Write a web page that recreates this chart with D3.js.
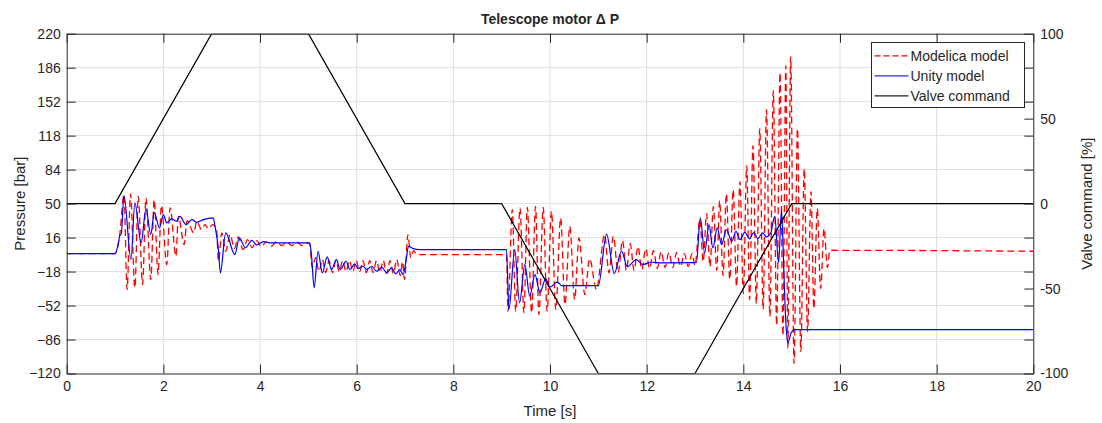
<!DOCTYPE html>
<html lang="en">
<head>
    <meta charset="UTF-8">
    <title>Telescope motor pressure</title>
    <script src="https://d3js.org/d3.v7.min.js"></script>
    <style>
        body { margin: 0; background: #fff; }
        text { font-family: "Liberation Sans", Arial, sans-serif; fill: #262626; }
    </style>
</head>
<body>
<script>
    // ---- data ----
    const valveT = [0, 1, 3, 5, 7, 9, 11, 13, 15, 20];
    const valveV = [0, 0, 100, 100, 0, 0, -100, -100, 0, 0];

    // Unity model (blue), extrema and corners
    const uniT = [0, 1.0, 1.06, 1.10, 1.13, 1.185, 1.33, 1.41, 1.54, 1.64, 1.74, 1.81, 1.92, 2.0, 2.07, 2.17, 2.27, 2.34, 2.47, 2.59, 2.69, 2.83, 3.03, 3.07, 3.14, 3.18, 3.29, 3.48, 3.57, 3.70, 3.83, 3.93, 4.07, 4.2,
        5.03, 5.07, 5.12, 5.20, 5.29, 5.39, 5.48, 5.58, 5.66, 5.78, 5.86, 5.96, 6.03, 6.13, 6.21, 6.31, 6.41, 6.52, 6.62, 6.72, 6.81, 6.89, 6.96, 7.03, 7.07, 7.17, 7.3,
        9.1, 9.15, 9.27, 9.37, 9.48, 9.58, 9.69, 9.79, 9.91, 10.0, 10.15, 10.25, 11.0, 11.17, 11.33, 11.48, 11.6, 11.79, 11.92, 12.1, 12.3,
        13.03, 13.11, 13.2, 13.29, 13.37, 13.46, 13.55, 13.65, 13.76, 13.85, 13.93, 14.03, 14.13, 14.21, 14.3, 14.4, 14.48, 14.57, 14.65, 14.73, 14.79, 14.84, 14.88, 14.92, 14.99, 15.05, 20];
    const uniP = [0, 0, 8, 18, 20, 58, -6, 50.7, 10.7, 44.7, 19, 41.3, 25.7, 39, 30.7, 34.7, 32.3, 37.3, 29, 34, 31.3, 34, 35.7, 27, 4, -19.3, 20.7, -1, 15.7, 5.7, 13.3, 8.7, 12, 10.7,
        10.7, -5, -34.3, 2.3, -19.3, -3.3, -16, -6, -16, -7.7, -16, -10.3, -15, -12.7, -16, -12.7, -17.7, -13.7, -19.3, -14.3, -20.3, -16, -21, -4.3, 7.3, 5, 4,
        4, -56, 4, -49.3, -11, -42.7, -21, -39.3, -25.3, -33.5, -28.5, -32, -32, 19.5, -20, 2.3, -13, -6, -11, -8.7, -9.3,
        -9, 35.7, 0.7, 29, 5.7, 25.7, 9, 24, 12.3, 22.3, 14, 21.3, 14.7, 21, 15, 20.7, 16.7, 21.3, 37.3, -9.3, 44, -20, -69.3, -89.3, -79.3, -76, -76];

    // Modelica model (red, dashed), extrema and corners
    const modT = [0, 1.0, 1.1, 1.185, 1.25, 1.32, 1.41, 1.48, 1.57, 1.64, 1.74, 1.81, 1.89, 1.96, 2.07, 2.14, 2.26, 2.31, 2.43, 2.49, 2.63, 2.69, 2.79, 2.86, 2.93, 3.02, 3.10,
        3.14, 3.21, 3.29, 3.38, 3.47, 3.55, 3.65, 3.74, 3.84, 3.93, 4.03, 4.13, 4.24, 4.34, 4.45, 4.55, 4.66, 4.76, 4.87, 4.97,
        5.03, 5.08, 5.15, 5.22, 5.29, 5.36, 5.43, 5.50, 5.57, 5.64, 5.71, 5.78, 5.85, 5.92, 5.99, 6.06, 6.13, 6.20, 6.27, 6.34, 6.41, 6.48, 6.55, 6.62, 6.69, 6.76, 6.83, 6.90, 6.95, 6.99, 7.06, 7.12, 7.18, 7.24, 7.35,
        9.1, 9.13, 9.22, 9.29, 9.38, 9.46, 9.53, 9.62, 9.70, 9.77, 9.86, 9.94, 10.03, 10.12, 10.22, 10.31, 10.41, 10.51, 10.6, 10.72, 10.82, 10.96,
        11.13, 11.22, 11.31, 11.41, 11.50, 11.58, 11.66, 11.74, 11.82, 11.90, 11.98, 12.06, 12.14, 12.22, 12.30, 12.38, 12.46, 12.54, 12.62, 12.70, 12.78, 12.86, 12.94, 13.0,
        13.10, 13.17, 13.24, 13.31, 13.38, 13.45, 13.51, 13.58, 13.65, 13.72, 13.79, 13.86, 13.93, 14.0, 14.07, 14.13, 14.20, 14.27, 14.34, 14.41, 14.48, 14.55, 14.62, 14.69, 14.76, 14.82, 14.88, 14.92, 14.98, 15.05,
        15.12, 15.19, 15.26, 15.33, 15.40, 15.46, 15.53, 15.60, 15.67, 15.74, 15.79, 20];
    const modP = [0, 0, 20, 59, -36, 59.7, -34.3, 57.3, -31, 55.7, -26, 54, -21, 48.3, -11, 45.7, -2.7, 37.3, 9, 33, 20.7, 32.3, 24, 29, 24.7, 29, 24,
        -7.7, 20.7, 2.3, 19, 5, 16.7, 4, 14, 6, 13, 7, 12, 7.5, 12, 8, 11.5, 8, 11.5, 8, 11,
        9, -14, -4, -18, -6, -19, -7, -19, -7, -18, -7, -18, -7, -18, -7, -18, -7, -19, -7, -19, -7, -19, -7, -20, -7, -20, -6, -22, -8, -26, 19, -4, 3, -1, -1,
        -1, -57.7, 44, -57.7, 45.7, -59.3, 46.3, -59.3, 47.3, -61, 46.3, -57.7, 42.3, -56, 35.7, -51, 27.3, -46, 15.7, -41, -5, -36,
        19, -19.3, 17.3, -19, 13, -16.7, 10, -17, 7, -16, 5, -15, 3, -15, 2, -14, 1, -14, 1, -13, 0, -13, 0, -12,
        34, -8, 40, -13, 47, -17, 53, -22, 60, -26, 64, -33, 72, -40, 88, -46, 108, -50, 125, -56, 144, -63, 163, -72, 181, -82, 188, -95, 197, -110,
        125, -98, 85, -78, 62, -55, 45, -35, 25, -14, 3.3, 2.3];

    const yTicksLeft = [-120, -86, -52, -18, 16, 50, 84, 118, 152, 186, 220];
    const yTicksRight = [-100, -80, -60, -50, -40, -20, 0, 20, 40, 50, 60, 80, 100];
    const yLabelsRight = [-100, -50, 0, 50, 100];
    const xTicks = [0, 2, 4, 6, 8, 10, 12, 14, 16, 18, 20];

    // ---- layout ----
    const W = 1102, H = 423;
    const pL = 66.7, pR = 1033.3, pT = 33.7, pB = 373.5;
    const axisColor = "#262626";
    const redDash = "7,4";

    const svg = d3.select("body").append("svg")
        .attr("width", W).attr("height", H);

    const x = d3.scaleLinear().domain([0, 20]).range([pL, pR]);
    const yL = d3.scaleLinear().domain([-120, 220]).range([pB, pT]);
    const yR = d3.scaleLinear().domain([-100, 100]).range([pB, pT]);

    // grid
    const grid = svg.append("g").attr("stroke", "#dfdfdf").attr("stroke-width", 1);
    grid.selectAll(".gx").data(xTicks.slice(1, -1)).enter().append("line")
        .attr("x1", d => x(d)).attr("x2", d => x(d)).attr("y1", pT).attr("y2", pB);
    grid.selectAll(".gy").data(yTicksLeft.slice(1, -1)).enter().append("line")
        .attr("y1", d => yL(d)).attr("y2", d => yL(d)).attr("x1", pL).attr("x2", pR);

    // data
    svg.append("clipPath").attr("id", "clip").append("rect")
        .attr("x", pL).attr("y", pT).attr("width", pR - pL).attr("height", pB - pT);
    const plot = svg.append("g").attr("clip-path", "url(#clip)");

    const lineL = d3.line().x(d => x(d[0])).y(d => yL(d[1])).curve(d3.curveMonotoneX);
    const lineR = d3.line().x(d => x(d[0])).y(d => yR(d[1]));

    plot.append("path").datum(d3.zip(modT, modP))
        .attr("d", lineL).attr("fill", "none").attr("stroke", "#ff0000")
        .attr("stroke-width", 1.3).attr("stroke-dasharray", redDash);
    plot.append("path").datum(d3.zip(uniT, uniP))
        .attr("d", lineL).attr("fill", "none").attr("stroke", "#0000ff")
        .attr("stroke-width", 1.2);
    plot.append("path").datum(d3.zip(valveT, valveV))
        .attr("d", lineR).attr("fill", "none").attr("stroke", "#000")
        .attr("stroke-width", 1.2);

    // axes
    function styleAxis(g) {
        g.selectAll("path, line").attr("stroke", axisColor);
        g.selectAll("text").attr("fill", axisColor).style("font-size", "14px")
            .style("font-family", '"Liberation Sans", Arial, sans-serif');
    }

    svg.append("g").attr("transform", `translate(0,${pB})`)
        .call(d3.axisBottom(x).tickValues(xTicks).tickSizeInner(-9).tickSizeOuter(0).tickPadding(8))
        .call(styleAxis);
    svg.append("g").attr("transform", `translate(0,${pT})`)
        .call(d3.axisTop(x).tickValues(xTicks).tickSizeInner(-9).tickSizeOuter(0).tickFormat(""))
        .call(styleAxis);
    svg.append("g").attr("transform", `translate(${pL},0)`)
        .call(d3.axisLeft(yL).tickValues(yTicksLeft).tickSizeInner(-9).tickSizeOuter(0).tickPadding(6))
        .call(styleAxis);
    svg.append("g").attr("transform", `translate(${pR},0)`)
        .call(d3.axisRight(yR).tickValues(yTicksRight).tickSizeInner(-9).tickSizeOuter(0).tickPadding(7)
            .tickFormat(d => yLabelsRight.includes(d) ? d : ""))
        .call(styleAxis);

    // titles
    svg.append("text").attr("x", (pL + pR) / 2).attr("y", 24)
        .attr("text-anchor", "middle").style("font-size", "14px").style("font-weight", "bold")
        .text("Telescope motor \u0394 P");
    svg.append("text").attr("x", (pL + pR) / 2).attr("y", 416)
        .attr("text-anchor", "middle").style("font-size", "15px").text("Time [s]");
    svg.append("text").attr("transform", `translate(25,${(pT + pB) / 2}) rotate(-90)`)
        .attr("text-anchor", "middle").style("font-size", "15px").text("Pressure [bar]");
    svg.append("text").attr("transform", `translate(1092,${(pT + pB) / 2}) rotate(-90)`)
        .attr("text-anchor", "middle").style("font-size", "15px").text("Valve command [%]");

    // legend
    const legendItems = [
        { name: "Modelica model", color: "#ff0000", dash: "6,3" },
        { name: "Unity model", color: "#2a2aff", dash: null },
        { name: "Valve command", color: "#222222", dash: null }
    ];
    const lg = svg.append("g").attr("transform", "translate(871.5,42.5)");
    lg.append("rect").attr("width", 153).attr("height", 65)
        .attr("fill", "#fff").attr("stroke", axisColor).attr("stroke-width", 1);
    legendItems.forEach((item, i) => {
        const yy = 13.3 + i * 20;
        lg.append("line").attr("x1", 3).attr("x2", 37).attr("y1", yy).attr("y2", yy)
            .attr("stroke", item.color).attr("stroke-width", 1.3)
            .attr("stroke-dasharray", item.dash);
        lg.append("text").attr("x", 39).attr("y", yy + 5).style("font-size", "14px").text(item.name);
    });
</script>
</body>
</html>
